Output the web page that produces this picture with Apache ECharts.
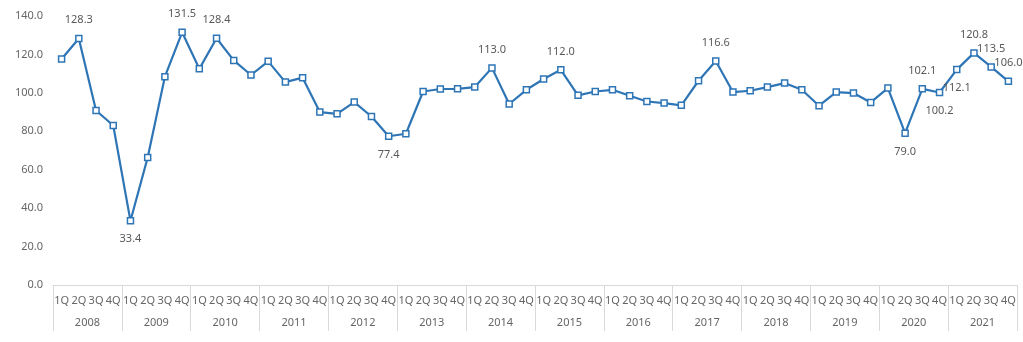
<!DOCTYPE html>
<html>
<head>
<meta charset="utf-8">
<script src="https://cdn.jsdelivr.net/npm/echarts@6/dist/echarts.min.js"></script>
<style>
html,body{margin:0;padding:0;background:#fff;}
#chart{width:1023px;height:342px;}
</style>
</head>
<body>
<div id="chart"></div>
<script>
const years = ['2008','2009','2010','2011','2012','2013','2014','2015','2016','2017','2018','2019','2020','2021'];
const quarters = ['1Q','2Q','3Q','4Q'];
const values = [
  117.6, 128.3, 90.8, 83.0,
  33.4, 66.4, 108.4, 131.5,
  112.5, 128.4, 116.9, 109.3,
  116.4, 105.6, 107.9, 90.0,
  89.1, 95.2, 87.7, 77.4,
  78.7, 100.7, 102.0, 102.1,
  103.0, 113.0, 94.2, 101.6,
  107.2, 112.0, 98.7, 100.7,
  101.6, 98.5, 95.5, 94.7,
  93.5, 106.3, 116.6, 100.4,
  101.1, 103.0, 105.1, 101.6,
  93.3, 100.4, 99.9, 95.0,
  102.5, 79.0, 102.1, 100.2,
  112.1, 120.8, 113.5, 106.0
];
const yTicks = [0, 20, 40, 60, 80, 100, 120, 140];

// label placement for the annotated points (style config, not data)
const labelPlacement = {
  1: {position: 'top'},
  4: {position: 'bottom'},
  7: {position: 'top'},
  9: {position: 'top'},
  19: {position: 'bottom'},
  25: {position: 'top'},
  29: {position: 'top'},
  38: {position: 'top'},
  49: {position: 'bottom'},
  50: {position: 'top'},
  51: {position: 'bottom'},
  52: {position: 'bottom', offset: [9, 0]},
  53: {position: 'top'},
  54: {position: 'top'},
  55: {position: 'top'}
};

const qCats = [];
years.forEach(y => quarters.forEach(q => qCats.push(y + ' ' + q)));

const seriesData = values.map((v, i) => {
  const lp = labelPlacement[i];
  if (!lp) return v;
  return {
    value: v,
    label: Object.assign({show: true, formatter: p => p.value.toFixed(1)}, lp)
  };
});

const txt = '#666666';
const font = 'Noto Sans';
const chart = echarts.init(document.getElementById('chart'));
chart.setOption({
  animation: false,
  grid: {left: 53, right: 6, top: 16, bottom: 57, containLabel: false},
  xAxis: [
    {
      type: 'category',
      data: qCats,
      boundaryGap: true,
      position: 'bottom',
      axisLine: {show: true, lineStyle: {color: '#d9d9d9', width: 1}},
      axisTick: {show: false},
      axisLabel: {
        interval: 0, hideOverlap: false, margin: 10,
        color: txt, fontFamily: font, fontSize: 11,
        formatter: v => v.split(' ')[1]
      },
      splitLine: {show: false}
    },
    {
      type: 'category',
      data: years,
      boundaryGap: true,
      position: 'bottom',
      axisLine: {show: false},
      axisTick: {show: true, length: 46, inside: false, alignWithLabel: false, lineStyle: {color: '#d9d9d9'}},
      axisLabel: {interval: 0, margin: 32, color: txt, fontFamily: font, fontSize: 11},
      splitLine: {show: false}
    }
  ],
  yAxis: {
    type: 'value',
    min: yTicks[0],
    max: yTicks[yTicks.length - 1],
    interval: yTicks[1] - yTicks[0],
    axisLine: {show: false},
    axisTick: {show: false},
    splitLine: {show: false},
    axisLabel: {margin: 10, color: txt, fontFamily: font, fontSize: 11, formatter: v => v.toFixed(1)}
  },
  series: [{
    type: 'line',
    data: seriesData,
    xAxisIndex: 0,
    symbol: 'rect',
    symbolSize: 6,
    showAllSymbol: true,
    lineStyle: {color: '#2e75b6', width: 2.2},
    itemStyle: {color: '#ffffff', borderColor: '#2e75b6', borderWidth: 1.5},
    label: {show: false, color: '#595959', fontFamily: font, fontSize: 11, distance: 9},
    labelLayout: {hideOverlap: false},
    emphasis: {disabled: true}
  }]
});
</script>
</body>
</html>
